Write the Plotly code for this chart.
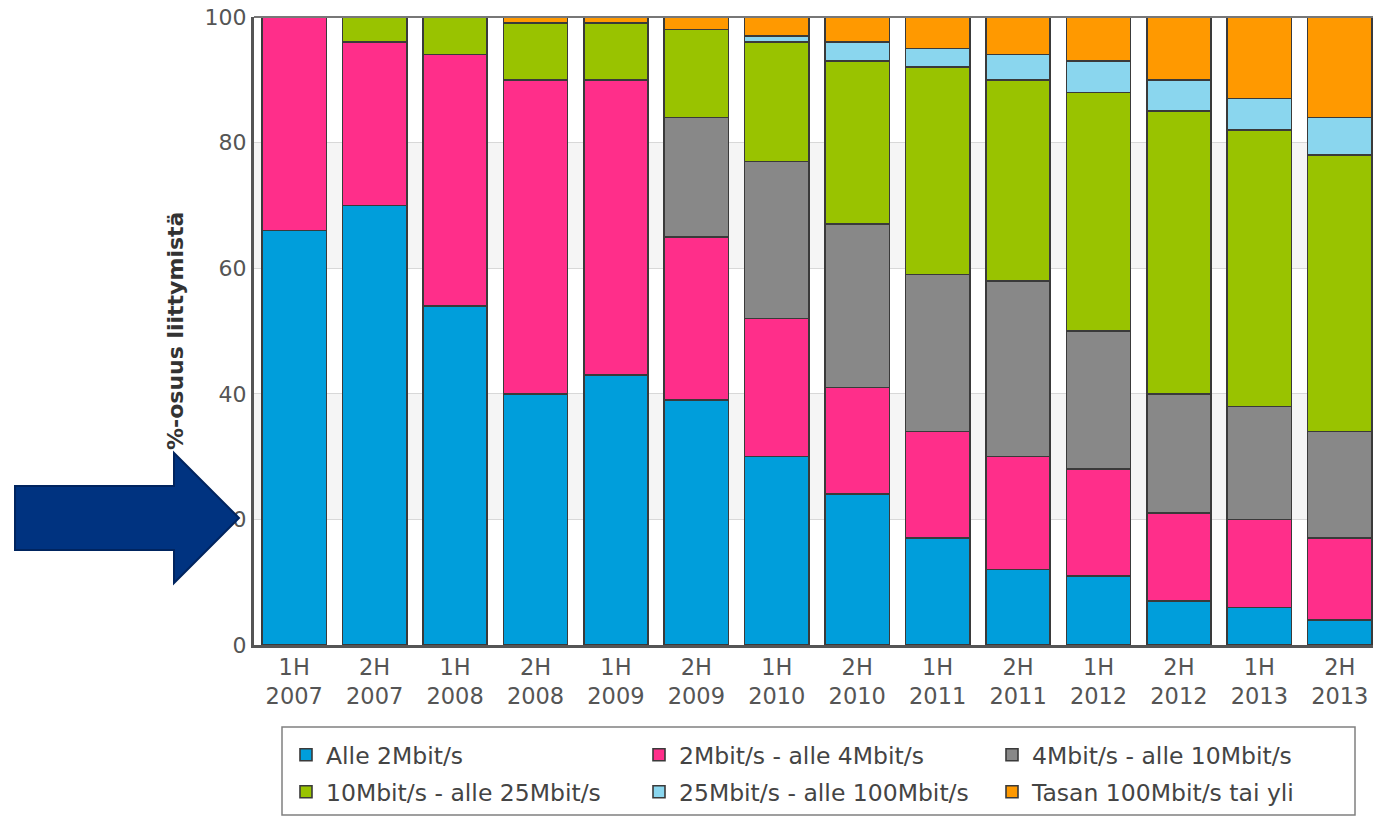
import plotly.graph_objects as go

# ---- data ----
periods = ["1H<br>2007", "2H<br>2007", "1H<br>2008", "2H<br>2008", "1H<br>2009", "2H<br>2009",
           "1H<br>2010", "2H<br>2010", "1H<br>2011", "2H<br>2011", "1H<br>2012", "2H<br>2012",
           "1H<br>2013", "2H<br>2013"]
alle_2 = [66, 70, 54, 40, 43, 39, 30, 24, 17, 12, 11, 7, 6, 4]
m2_4 = [34, 26, 40, 50, 47, 26, 22, 17, 17, 18, 17, 14, 14, 13]
m4_10 = [None, None, None, None, None, 19, 25, 26, 25, 28, 22, 19, 18, 17]
m10_25 = [None, 4, 6, 9, 9, 14, 19, 26, 33, 32, 38, 45, 44, 44]
m25_100 = [None, None, None, None, None, None, 1, 3, 3, 4, 5, 5, 5, 6]
m100 = [None, None, None, 1, 1, 2, 3, 4, 5, 6, 7, 10, 13, 16]

series_names = ["Alle 2Mbit/s", "2Mbit/s - alle 4Mbit/s", "4Mbit/s - alle 10Mbit/s",
                "10Mbit/s - alle 25Mbit/s", "25Mbit/s - alle 100Mbit/s", "Tasan 100Mbit/s tai yli"]
series_vals = [alle_2, m2_4, m4_10, m10_25, m25_100, m100]
colors = ["#009EDB", "#FF2E8A", "#888888", "#99C300", "#8AD6EE", "#FF9900"]
legend_rows = ["legend", "legend", "legend", "legend2", "legend2", "legend2"]

y_ticks = [0, 20, 40, 60, 80, 100]
y_title = "%-osuus liittymistä"

W, H = 1373, 817
ML, MR, MT, MB = 254, 0, 17, 172
PW, PH = W - ML - MR, H - MT - MB

def px(x):
    return (x - ML) / PW

def py(y):
    return (H - MB - y) / PH

fig = go.Figure()
for name, vals, col, lg in zip(series_names, series_vals, colors, legend_rows):
    fig.add_trace(go.Bar(
        x=list(range(len(periods))), y=vals, name=name, legend=lg,
        marker=dict(color=col, line=dict(color="#3A3A3A", width=1.6)),
    ))

# alternating background bands
shapes = []
for i in range(len(y_ticks) - 1):
    if i % 2 == 1:
        shapes.append(dict(type="rect", xref="paper", yref="y", x0=0, x1=1,
                           y0=y_ticks[i], y1=y_ticks[i + 1],
                           fillcolor="#F5F5F5", line=dict(width=0), layer="below"))

# arrow (decoration)
pts = [(15, 486), (174, 486), (174, 453), (239, 518), (174, 583), (174, 550), (15, 550)]
path = "M " + " L ".join(f"{px(a):.5f},{py(b):.5f}" for a, b in pts) + " Z"
shapes.append(dict(type="path", xref="paper", yref="paper", path=path,
                   fillcolor="#003380", line=dict(color="#00245F", width=2), layer="above"))

# legend frame
shapes.append(dict(type="rect", xref="paper", yref="paper",
                   x0=px(282), x1=px(1355), y0=py(727), y1=py(815),
                   line=dict(color="#808080", width=1.5), fillcolor="rgba(0,0,0,0)"))

# top border line
shapes.append(dict(type="line", xref="paper", yref="paper", x0=0, x1=1, y0=1, y1=1,
                   line=dict(color="#777777", width=2), layer="above"))

leg_common = dict(orientation="h", xanchor="left", yanchor="middle",
                  entrywidth=308, entrywidthmode="pixels", traceorder="normal",
                  font=dict(size=23.5, color="#444444", family="DejaVu Sans"),
                  borderwidth=0, bgcolor="rgba(0,0,0,0)")

fig.update_layout(
    width=W, height=H,
    margin=dict(l=ML, r=MR, t=MT, b=MB, autoexpand=False),
    barmode="stack", bargap=0.2,
    plot_bgcolor="white", paper_bgcolor="white",
    font=dict(family="DejaVu Sans", color="#555555"),
    shapes=shapes,
    showlegend=True,
    legend=dict(x=px(286), y=py(755), **leg_common),
    legend2=dict(x=px(286), y=py(792), **leg_common),
    xaxis=dict(
        tickmode="array", tickvals=list(range(len(periods))), ticktext=periods,
        range=[-0.5, 13.413], showgrid=False, ticks="",
        showline=True, linecolor="#555555", linewidth=3,
        tickfont=dict(size=22.5, color="#555555"),
    ),
    yaxis=dict(
        range=[0, 100], tickvals=y_ticks, showgrid=True, gridcolor="#D8D8D8", gridwidth=1,
        showline=True, linecolor="#555555", linewidth=3, ticks="",
        tickfont=dict(size=22, color="#555555"), zeroline=False,
    ),
    annotations=[dict(
        text=f"<b>{y_title}</b>", xref="paper", yref="paper",
        x=px(175), y=py(331), textangle=-90, showarrow=False,
        font=dict(size=22, color="#333333"), xanchor="center", yanchor="middle",
    )],
)

fig.write_html("out.html", config={"displayModeBar": False},
               post_script="document.body.style.margin='0px';")
